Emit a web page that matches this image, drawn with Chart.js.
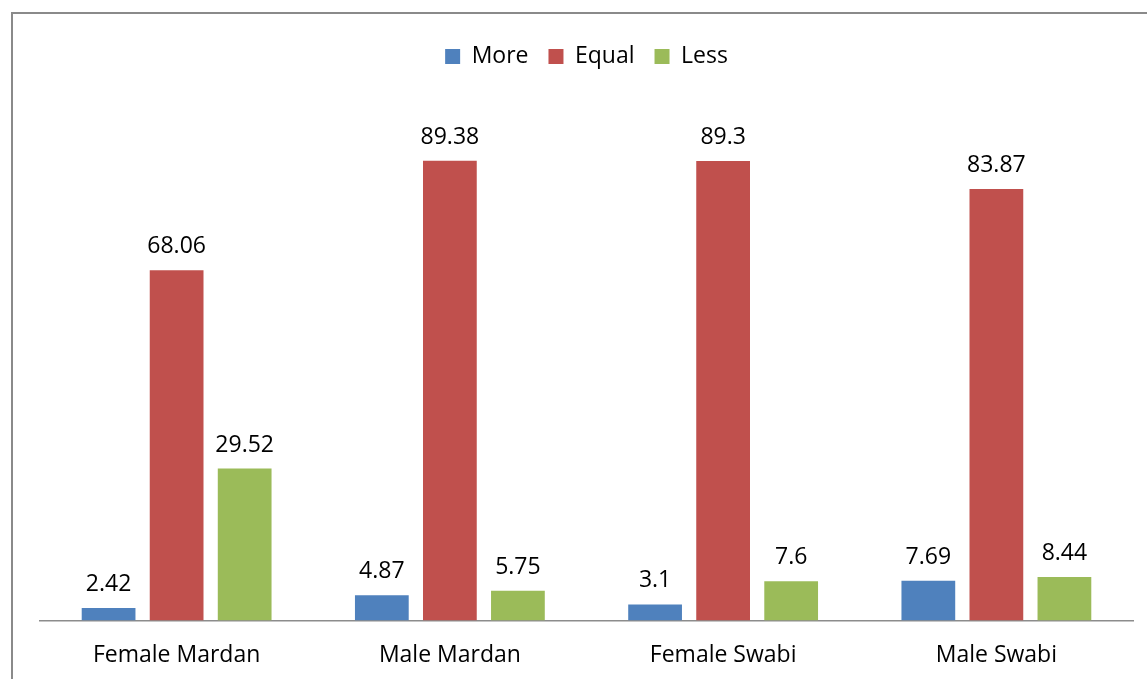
<!DOCTYPE html>
<html>
<head>
<meta charset="utf-8">
<script src="https://cdn.jsdelivr.net/npm/chart.js@4/dist/chart.umd.min.js"></script>
<style>
  html, body { margin: 0; padding: 0; background: #fff; }
  #wrap { position: relative; width: 1147px; height: 679px; overflow: hidden; }
  #frame { position: absolute; left: 11px; top: 12px; width: 1200px; height: 700px;
           border: 2px solid #8a8a8a; box-sizing: border-box; pointer-events: none; }
  canvas { position: absolute; left: 0; top: 0; }
</style>
</head>
<body>
<div id="wrap">
  <canvas id="myChart" width="1147" height="690"></canvas>
  <div id="frame"></div>
</div>
<script>
// Kategorie a hodnoty
const categories = ['Female Mardan', 'Male Mardan', 'Female Swabi', 'Male Swabi'];
const moreValues = [2.42, 4.87, 3.1, 7.69];
const equalValues = [68.06, 89.38, 89.3, 83.87];
const lessValues = [29.52, 5.75, 7.6, 8.44];
const seriesNames = ['More', 'Equal', 'Less'];
const colors = ['#4F81BD', '#C0504D', '#9BBB59'];

const fontFamily = "'Open Sans', 'Noto Sans', sans-serif";

// Popisky hodnot nad sloupci
const valueLabels = {
    id: 'valueLabels',
    afterDatasetsDraw(chart) {
        const ctx = chart.ctx;
        ctx.save();
        ctx.font = '23px ' + fontFamily;
        ctx.fillStyle = '#000';
        ctx.textAlign = 'center';
        ctx.textBaseline = 'alphabetic';
        chart.data.datasets.forEach((ds, i) => {
            chart.getDatasetMeta(i).data.forEach((bar, j) => {
                ctx.fillText(String(ds.data[j]), bar.x, bar.y - 17);
            });
        });
        ctx.restore();
    }
};

// Větší mezera pod legendou
const legendGap = {
    id: 'legendGap',
    beforeInit(chart) {
        const origFit = chart.legend.fit;
        chart.legend.fit = function () {
            origFit.bind(chart.legend)();
            this.height += 28;
        };
    }
};

const ctx = document.getElementById('myChart').getContext('2d');
new Chart(ctx, {
    type: 'bar',
    data: {
        labels: categories,
        datasets: [
            { label: seriesNames[0], data: moreValues, backgroundColor: colors[0] },
            { label: seriesNames[1], data: equalValues, backgroundColor: colors[1] },
            { label: seriesNames[2], data: lessValues, backgroundColor: colors[2] }
        ]
    },
    options: {
        responsive: false,
        animation: false,
        categoryPercentage: 0.747,
        barPercentage: 0.79,
        layout: { padding: { left: 40, right: 14, top: 25, bottom: 0 } },
        plugins: {
            tooltip: { enabled: false },
            legend: {
                position: 'top',
                labels: {
                    font: { family: fontFamily, size: 23 },
                    color: '#000',
                    boxWidth: 15,
                    boxHeight: 15,
                    padding: 20
                }
            }
        },
        scales: {
            x: {
                grid: { display: false, drawTicks: false },
                border: { display: true, color: '#8c8c8c', width: 1.5 },
                ticks: { font: { family: fontFamily, size: 23 }, color: '#000', padding: 21 }
            },
            y: {
                display: false,
                min: 0,
                max: 100
            }
        }
    },
    plugins: [valueLabels, legendGap]
});
</script>
</body>
</html>
